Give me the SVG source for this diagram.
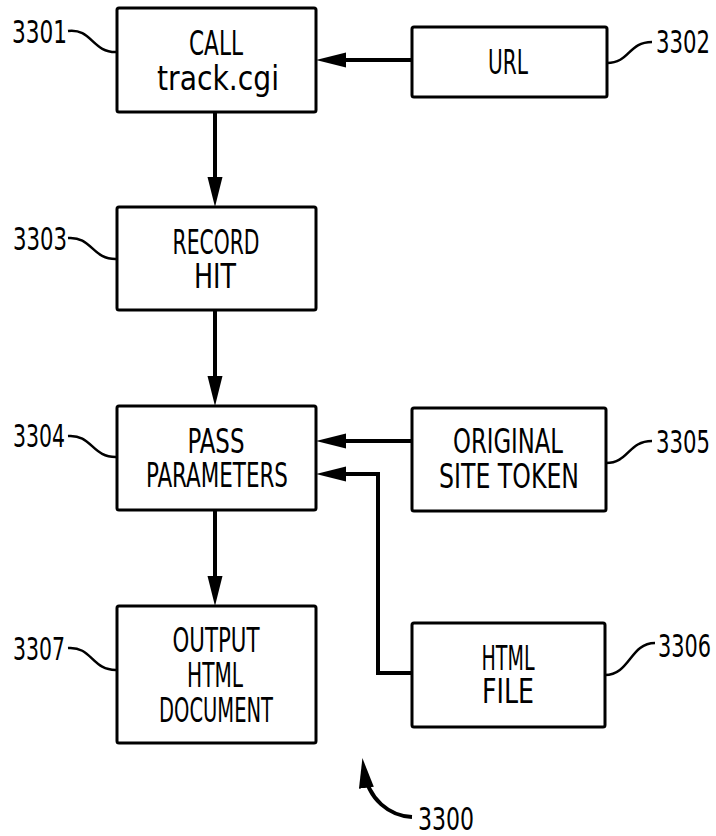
<svg xmlns="http://www.w3.org/2000/svg" width="716" height="836" viewBox="0 0 716 836">
<style>
  .box { fill: #ffffff; stroke: #000; stroke-width: 3; }
  .t { font-family: "Liberation Sans Narrow", "DejaVu Sans Condensed", "Liberation Sans", sans-serif; font-size: 33px; fill: #000; text-anchor: middle; }
  .lbl { font-family: "Liberation Sans Narrow", "DejaVu Sans Condensed", "Liberation Sans", sans-serif; font-size: 32px; fill: #000; }
  .lead { fill: none; stroke: #000; stroke-width: 2.5; }
  .conn { fill: none; stroke: #000; stroke-width: 4; marker-end: url(#ah); }
</style>
<defs>
  <marker id="ah" markerUnits="userSpaceOnUse" markerWidth="32" markerHeight="16" refX="18" refY="7.5" orient="auto">
    <path d="M0,0 L30,7.5 L0,15 Z" fill="#000"/>
  </marker>
</defs>
<rect width="716" height="836" fill="#fff"/>

<g id="connectors">
  <path class="conn" d="M215,112 V195"/>
  <path class="conn" d="M412,60 H328"/>
  <path class="conn" d="M215,310 V394"/>
  <path class="conn" d="M412,441 H328"/>
  <path class="conn" d="M412,673 H378 V474 H328"/>
  <path class="conn" d="M215,510 V594"/>
</g>

<g id="n3301">
  <rect class="box" x="117" y="8" width="199" height="104" rx="2"/>
  <text class="t" x="216" y="55" textLength="54" lengthAdjust="spacingAndGlyphs">CALL</text>
  <text class="t" x="218" y="90" textLength="122" lengthAdjust="spacingAndGlyphs">track.cgi</text>
  <text class="lbl" x="12" y="43" textLength="55" lengthAdjust="spacingAndGlyphs">3301</text>
  <path class="lead" d="M68,31 C92,28 92,53 117,52"/>
</g>

<g id="n3302">
  <rect class="box" x="412" y="27" width="195" height="70" rx="2"/>
  <text class="t" x="508" y="74" textLength="40" lengthAdjust="spacingAndGlyphs">URL</text>
  <text class="lbl" x="656" y="53" textLength="54" lengthAdjust="spacingAndGlyphs">3302</text>
  <path class="lead" d="M607,63 C630,63 628,42 652,42"/>
</g>

<g id="n3303">
  <rect class="box" x="117" y="207" width="199" height="103" rx="2"/>
  <text class="t" x="216" y="254" textLength="87" lengthAdjust="spacingAndGlyphs">RECORD</text>
  <text class="t" x="215" y="288" textLength="42" lengthAdjust="spacingAndGlyphs">HIT</text>
  <text class="lbl" x="13" y="250" textLength="54" lengthAdjust="spacingAndGlyphs">3303</text>
  <path class="lead" d="M68,238 C92,236 92,260 117,259"/>
</g>

<g id="n3304">
  <rect class="box" x="117" y="406" width="199" height="104" rx="2"/>
  <text class="t" x="216" y="453" textLength="57" lengthAdjust="spacingAndGlyphs">PASS</text>
  <text class="t" x="217" y="487" textLength="142" lengthAdjust="spacingAndGlyphs">PARAMETERS</text>
  <text class="lbl" x="13" y="447" textLength="52" lengthAdjust="spacingAndGlyphs">3304</text>
  <path class="lead" d="M68,436 C92,434 92,458 117,457"/>
</g>

<g id="n3305">
  <rect class="box" x="412" y="408" width="194" height="103" rx="2"/>
  <text class="t" x="508" y="453" textLength="110" lengthAdjust="spacingAndGlyphs">ORIGINAL</text>
  <text class="t" x="509" y="488" textLength="140" lengthAdjust="spacingAndGlyphs">SITE TOKEN</text>
  <text class="lbl" x="656" y="453" textLength="54" lengthAdjust="spacingAndGlyphs">3305</text>
  <path class="lead" d="M606,463 C629,463 628,441 652,441"/>
</g>

<g id="n3306">
  <rect class="box" x="412" y="623" width="193" height="104" rx="2"/>
  <text class="t" x="508" y="670" textLength="53" lengthAdjust="spacingAndGlyphs">HTML</text>
  <text class="t" x="508" y="703" textLength="52" lengthAdjust="spacingAndGlyphs">FILE</text>
  <text class="lbl" x="658" y="657" textLength="53" lengthAdjust="spacingAndGlyphs">3306</text>
  <path class="lead" d="M605,675 C630,675 630,643 655,643"/>
</g>

<g id="n3307">
  <rect class="box" x="117" y="606" width="199" height="137" rx="2"/>
  <text class="t" x="216" y="652" textLength="87" lengthAdjust="spacingAndGlyphs">OUTPUT</text>
  <text class="t" x="215" y="687" textLength="56" lengthAdjust="spacingAndGlyphs">HTML</text>
  <text class="t" x="216" y="722" textLength="114" lengthAdjust="spacingAndGlyphs">DOCUMENT</text>
  <text class="lbl" x="13" y="660" textLength="52" lengthAdjust="spacingAndGlyphs">3307</text>
  <path class="lead" d="M68,648 C92,646 92,671 117,670"/>
</g>

<g id="n3300">
  <path class="conn" d="M412,817 C390,816 368,800 364,770"/>
  <text class="lbl" x="418" y="830" textLength="56" lengthAdjust="spacingAndGlyphs">3300</text>
</g>
</svg>
